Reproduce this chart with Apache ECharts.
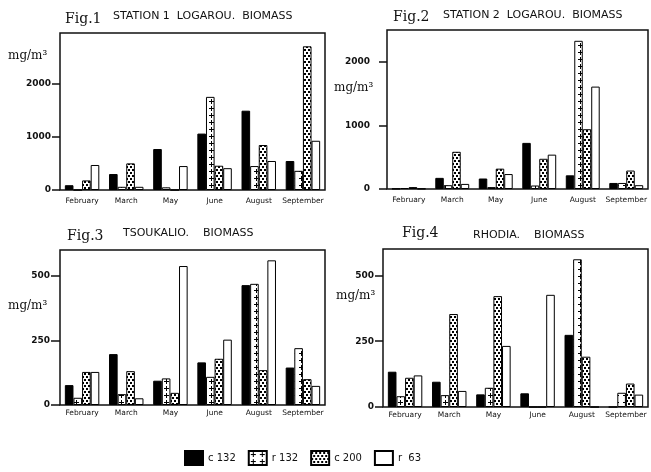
<!DOCTYPE html>
<html>
<head>
<meta charset="utf-8">
<script src="https://cdn.jsdelivr.net/npm/echarts@6/dist/echarts.min.js"></script>
<style>
  html, body { margin: 0; padding: 0; background: #fff; }
  #chart { width: 651px; height: 472px; }
</style>
</head>
<body>
<div id="chart"></div>
<script>
// months on the x axis (same for all 4 figures)
const months = ['February', 'March', 'May', 'June', 'August', 'September']
const seriesNames = ['c 132', 'r 132', 'c 200', 'r  63']

// Fig.1 station 1 Logarou
const fig1C132 = [90, 300, 770, 1060, 1490, 545]
const fig1R132 = [0, 60, 50, 1750, 450, 360]
const fig1C200 = [180, 500, 0, 456, 845, 2700]
const fig1R63 = [470, 60, 450, 410, 545, 925]
const fig1Ticks = [0, 1000, 2000]

// Fig.2 station 2 Logarou
const fig2C132 = [5, 175, 165, 725, 215, 95]
const fig2R132 = [15, 60, 30, 55, 2330, 95]
const fig2C200 = [30, 585, 320, 475, 940, 290]
const fig2R63 = [5, 80, 235, 540, 1610, 60]
const fig2Ticks = [0, 1000, 2000]

// Fig.3 Tsoukalio
const fig3C132 = [77, 197, 94, 165, 464, 145]
const fig3R132 = [28, 42, 103, 109, 469, 220]
const fig3C200 = [128, 131, 47, 179, 135, 100]
const fig3R63 = [128, 26, 538, 253, 560, 74]
const fig3Ticks = [0, 250, 500]

// Fig.4 Rhodia
const fig4C132 = [134, 96, 48, 52, 274, 0]
const fig4R132 = [41, 45, 73, 0, 561, 54]
const fig4C200 = [111, 353, 421, 0, 191, 89]
const fig4R63 = [120, 61, 232, 426, 0, 47]
const fig4Ticks = [0, 250, 500]

/** small canvas fills that imitate the printed hatchings */
function makePattern(kind) {
  const c = document.createElement('canvas')
  const ctx = c.getContext('2d')
  if (kind === 'plus') {
    c.width = 9; c.height = 7
    ctx.fillStyle = '#fff'
    ctx.fillRect(0, 0, 9, 7)
    ctx.fillStyle = '#000'
    ctx.fillRect(2, 3, 5, 1)
    ctx.fillRect(4, 1, 1, 5)
  } else {
    c.width = 8; c.height = 6
    ctx.fillStyle = '#fff'
    ctx.fillRect(0, 0, 8, 6)
    ctx.fillStyle = '#000'
    ctx.fillRect(0, 1, 2, 2)
    ctx.fillRect(4, 1, 2, 2)
    ctx.fillRect(2, 4, 2, 2)
    ctx.fillRect(6, 4, 2, 2)
  }
  return { image: c, repeat: 'repeat' }
}

const fills = ['#000', makePattern('plus'), makePattern('dots'), '#fff']

const panels = [
  { data: [fig1C132, fig1R132, fig1C200, fig1R63], ticks: fig1Ticks, max: 2950,
    grid: { left: 60, top: 33, width: 265, height: 157 }, tickLen: 8, labelMargin: 9, xMargin: 7 },
  { data: [fig2C132, fig2R132, fig2C200, fig2R63], ticks: fig2Ticks, max: 2500,
    grid: { left: 387, top: 30, width: 261, height: 159 }, tickLen: 8, labelMargin: 17, xMargin: 7 },
  { data: [fig3C132, fig3R132, fig3C200, fig3R63], ticks: fig3Ticks, max: 600,
    grid: { left: 60, top: 250, width: 265, height: 155 }, tickLen: 9, labelMargin: 10, xMargin: 4 },
  { data: [fig4C132, fig4R132, fig4C200, fig4R63], ticks: fig4Ticks, max: 600,
    grid: { left: 383, top: 249, width: 265, height: 158 }, tickLen: 8, labelMargin: 9, xMargin: 4 }
]

const grids = []
const xAxes = []
const yAxes = []
const series = []

panels.forEach((p, i) => {
  grids.push(Object.assign({ show: true, borderColor: '#111', borderWidth: 1.5, backgroundColor: '#fff' }, p.grid))
  xAxes.push({
    gridIndex: i,
    type: 'category',
    data: months,
    axisLine: { show: false },
    axisTick: { show: false },
    axisLabel: { interval: 0, fontSize: 7.5, color: '#111', margin: p.xMargin, fontFamily: 'DejaVu Sans' }
  })
  yAxes.push({
    gridIndex: i,
    type: 'value',
    min: 0,
    max: p.max,
    splitLine: { show: false },
    axisLine: { show: false },
    axisTick: { show: true, length: p.tickLen, customValues: p.ticks, lineStyle: { color: '#111', width: 1.5 } },
    axisLabel: {
      customValues: p.ticks, fontSize: 9, fontWeight: 'bold', color: '#111',
      margin: p.labelMargin, fontFamily: 'DejaVu Sans',
      formatter: v => String(v)
    }
  })
  p.data.forEach((vals, k) => {
    series.push({
      name: seriesNames[k],
      type: 'bar',
      xAxisIndex: i,
      yAxisIndex: i,
      data: vals,
      barGap: '0%',
      barCategoryGap: '22%',
      itemStyle: { color: fills[k], borderColor: '#000', borderWidth: 1 },
      emphasis: { disabled: true }
    })
  })
})

// figure titles and unit labels
const serif = 'DejaVu Serif'
const sans = 'DejaVu Sans'
const texts = [
  { text: 'Fig.1', left: 65, top: 12, font: serif, size: 14 },
  { text: 'STATION 1  LOGAROU.  BIOMASS', left: 113, top: 11, font: sans, size: 11 },
  { text: 'Fig.2', left: 393, top: 10, font: serif, size: 14 },
  { text: 'STATION 2  LOGAROU.  BIOMASS', left: 443, top: 10, font: sans, size: 11 },
  { text: 'Fig.3', left: 67, top: 229, font: serif, size: 14 },
  { text: 'TSOUKALIO.    BIOMASS', left: 123, top: 228, font: sans, size: 11 },
  { text: 'Fig.4', left: 402, top: 226, font: serif, size: 14 },
  { text: 'RHODIA.    BIOMASS', left: 473, top: 230, font: sans, size: 11 },
  { text: 'mg/m³', left: 8, top: 50, font: serif, size: 12 },
  { text: 'mg/m³', left: 334, top: 82, font: serif, size: 12 },
  { text: 'mg/m³', left: 8, top: 300, font: serif, size: 12 },
  { text: 'mg/m³', left: 336, top: 290, font: serif, size: 12 }
]

const option = {
  animation: false,
  backgroundColor: '#fff',
  title: texts.map(t => ({
    text: t.text, left: t.left, top: t.top, padding: 0,
    textStyle: { fontFamily: t.font, fontSize: t.size, fontWeight: 'normal', color: '#111' }
  })),
  legend: {
    data: seriesNames,
    left: 179,
    top: 445,
    icon: 'rect',
    itemWidth: 18,
    itemHeight: 14,
    itemGap: 12,
    selectedMode: false,
    textStyle: { fontSize: 10, color: '#111', fontFamily: sans }
  },
  grid: grids,
  xAxis: xAxes,
  yAxis: yAxes,
  series: series
}

const chart = echarts.init(document.getElementById('chart'), null, { renderer: 'canvas' })
chart.setOption(option)
</script>
</body>
</html>
